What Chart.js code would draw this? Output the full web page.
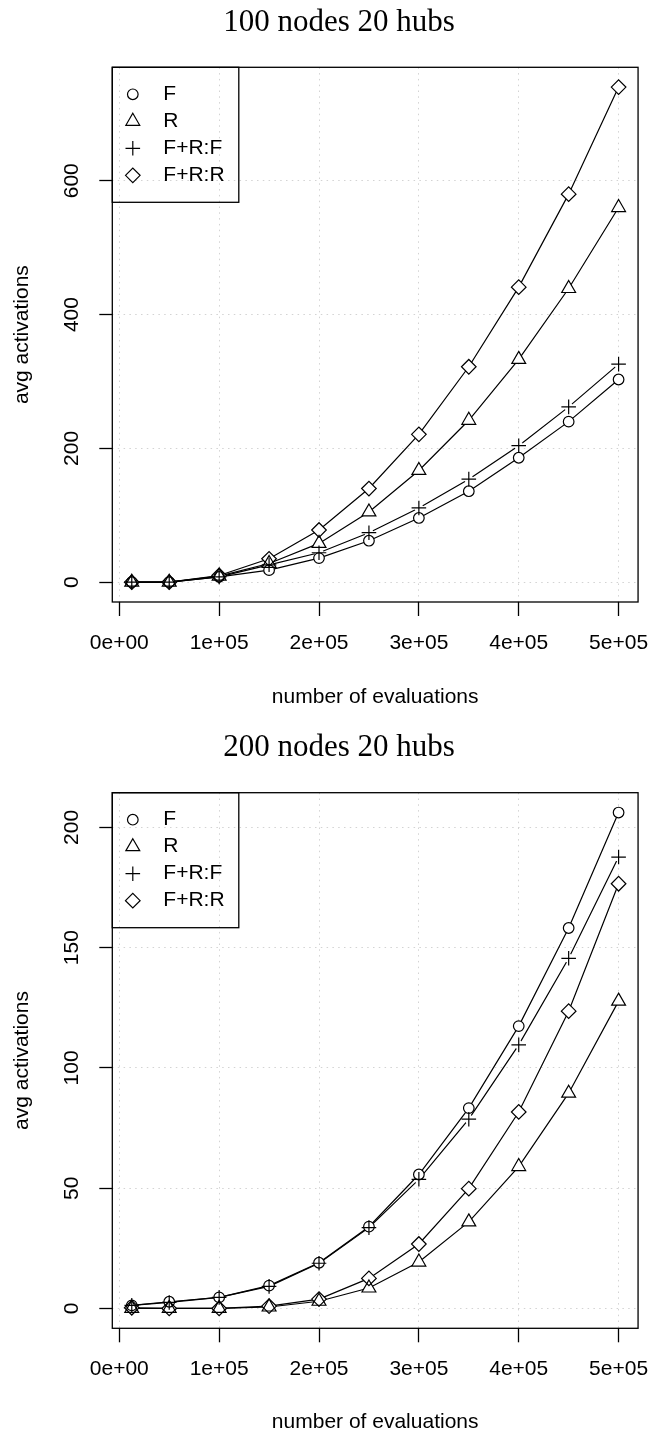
<!DOCTYPE html>
<html>
<head>
<meta charset="utf-8">
<script src="https://cdn.jsdelivr.net/npm/chart.js@4.4.1/dist/chart.umd.min.js"></script>
<style>
html, body { margin: 0; padding: 0; background: #fff; overflow: hidden; }
#wrap { position: relative; width: 663px; height: 1437px; }
canvas { position: absolute; left: 0; }
</style>
</head>
<body>
<div id="wrap">
  <canvas id="c1" width="663" height="725" style="top:0px"></canvas>
  <canvas id="c2" width="663" height="725" style="top:725px"></canvas>
</div>
<script>
// x: number of evaluations
const evals = [12500, 50000, 100000, 150000, 200000, 250000, 300000, 350000, 400000, 450000, 500000];
const xTicks = [0, 100000, 200000, 300000, 400000, 500000];
const xTickLabels = ['0e+00', '1e+05', '2e+05', '3e+05', '4e+05', '5e+05'];

const seriesNames = ['F', 'R', 'F+R:F', 'F+R:R'];
const pointStyles = ['circle', 'triangle', 'cross', 'rectRot'];
const pointSizes = [5.3, 8, 7.3, 7.3];

// 100 nodes 20 hubs
const f100   = [0, 0, 8, 18, 36, 62, 96, 136, 186, 240, 303];
const r100   = [0, 0, 9, 28, 58, 105, 167, 242, 333, 439, 560];
const frf100 = [0, 0, 8, 26, 44, 74, 111, 154, 204, 262, 326];
const frr100 = [0, 0, 10, 35, 78, 140, 221, 322, 441, 580, 740];
const yTicks100 = [0, 200, 400, 600];

// 200 nodes 20 hubs
const f200   = [1.3, 2.8, 4.6, 9.5, 19, 34, 55.7, 83.3, 117.4, 158.2, 206.2];
const r200   = [0, 0, 0, 0.6, 3, 8.5, 19.3, 36, 59, 89.5, 127.8];
const frf200 = [1.3, 2.5, 4.6, 9.2, 18.8, 33.6, 53.7, 78.7, 109.6, 145.6, 187.7];
const frr200 = [0.3, 0, 0, 1, 3.9, 12.5, 26.8, 49.8, 81.7, 123.6, 176.6];
const yTicks200 = [0, 50, 100, 150, 200];

const sans = 'Liberation Sans, Arial, sans-serif';
const ink = '#000';

// R pads the data range by 4% on each side
function padRange(vals) {
  const lo = Math.min(...vals), hi = Math.max(...vals);
  const d = (hi - lo) * 0.04;
  return [lo - d, hi + d];
}

// type="b": line under, white gap, then open symbol on top
function makeDatasets(series) {
  const sets = [];
  series.forEach((vals, i) => {
    const pts = vals.map((v, j) => ({ x: evals[j], y: v }));
    sets.push({ data: pts, borderColor: ink, borderWidth: 1.2, pointRadius: 0, order: 3 });
    sets.push({
      data: pts, showLine: false, order: 2,
      pointStyle: pointStyles[i] === 'cross' ? 'circle' : pointStyles[i],
      pointRadius: pointStyles[i] === 'cross' ? 4.5 : pointSizes[i],
      pointBackgroundColor: '#fff', pointBorderWidth: 0
    });
    sets.push({
      data: pts, showLine: false, order: 1,
      pointStyle: pointStyles[i], pointRadius: pointSizes[i],
      pointBackgroundColor: 'rgba(0,0,0,0)', pointBorderColor: ink, pointBorderWidth: 1.2
    });
  });
  return sets;
}

const rFrame = {
  id: 'rFrame',
  afterDraw(chart, args, opts) {
    const { ctx, chartArea: a } = chart;
    ctx.save();
    ctx.strokeStyle = ink;
    ctx.lineWidth = 1.3;
    ctx.strokeRect(a.left, a.top, a.right - a.left, a.bottom - a.top);

    // legend box, top-left inside the plot
    const lw = 126.5, row = 27;
    ctx.strokeRect(a.left, a.top, lw, row * 5);
    ctx.lineWidth = 1.2;
    ctx.fillStyle = 'rgba(0,0,0,0)';
    seriesNames.forEach((name, i) => {
      const y = a.top + row * (i + 1);
      Chart.helpers.drawPoint(ctx, { pointStyle: pointStyles[i], radius: pointSizes[i], borderWidth: 1.2, rotation: 0 }, a.left + 20.5, y);
    });
    ctx.fillStyle = ink;
    ctx.font = '21px ' + sans;
    ctx.textBaseline = 'middle';
    ctx.textAlign = 'left';
    seriesNames.forEach((name, i) => {
      ctx.fillText(name, a.left + 51, a.top + row * (i + 1));
    });

    // main title
    ctx.font = '31px "Liberation Serif", serif';
    ctx.textAlign = 'center';
    ctx.fillText(opts.title, 339, 23);
    ctx.restore();
  }
};

function drawChart(id, title, series, yTicks, box) {
  const H = 725;
  const xr = padRange(evals);
  const yr = padRange(series.flat());
  const gridOpts = {
    color: '#d3d3d3', lineWidth: 1,
    drawTicks: true, tickColor: ink, tickWidth: 1.3, tickBorderDash: []
  };
  // in v4 the dash of the grid lines lives under border
  const borderOpts = { display: false, dash: [1.5, 4.3] };
  new Chart(document.getElementById(id), {
    type: 'line',
    data: { datasets: makeDatasets(series) },
    options: {
      responsive: false,
      animation: false,
      devicePixelRatio: 1,
      events: [],
      layout: { autoPadding: false, padding: { top: box.top, right: 663 - box.right, left: 0, bottom: 0 } },
      plugins: {
        legend: { display: false },
        tooltip: { enabled: false },
        rFrame: { title: title }
      },
      scales: {
        x: {
          type: 'linear',
          min: xr[0], max: xr[1],
          afterBuildTicks: s => { s.ticks = xTicks.map(v => ({ value: v })); },
          afterFit: s => { s.height = H - box.bottom; },
          grid: Object.assign({}, gridOpts, { tickLength: 14 }),
          border: borderOpts,
          ticks: {
            color: ink, font: { family: sans, size: 21 }, padding: 14.4,
            maxRotation: 0, autoSkip: false,
            callback: v => xTickLabels[xTicks.indexOf(v)]
          },
          title: {
            display: true, text: 'number of evaluations', color: ink,
            font: { family: sans, size: 21 }, padding: { top: 0, bottom: 15.4 }
          }
        },
        y: {
          type: 'linear',
          min: yr[0], max: yr[1],
          afterBuildTicks: s => { s.ticks = yTicks.map(v => ({ value: v })); },
          afterFit: s => { s.width = box.left; },
          grid: Object.assign({}, gridOpts, { tickLength: 13 }),
          border: borderOpts,
          ticks: {
            color: ink, font: { family: sans, size: 21 }, padding: 9.8,
            minRotation: 90, maxRotation: 90, crossAlign: 'center', autoSkip: false
          },
          title: {
            display: true, text: 'avg activations', color: ink,
            font: { family: sans, size: 21 }, padding: { top: 9.4, bottom: 0 }
          }
        }
      }
    },
    plugins: [rFrame]
  });
}

drawChart('c1', '100 nodes 20 hubs', [f100, r100, frf100, frr100], yTicks100,
  { left: 112.3, right: 649, top: 67.3, bottom: 602 });
drawChart('c2', '200 nodes 20 hubs', [f200, r200, frf200, frr200], yTicks200,
  { left: 112.3, right: 649, top: 67.7, bottom: 603.3 });
</script>
</body>
</html>
